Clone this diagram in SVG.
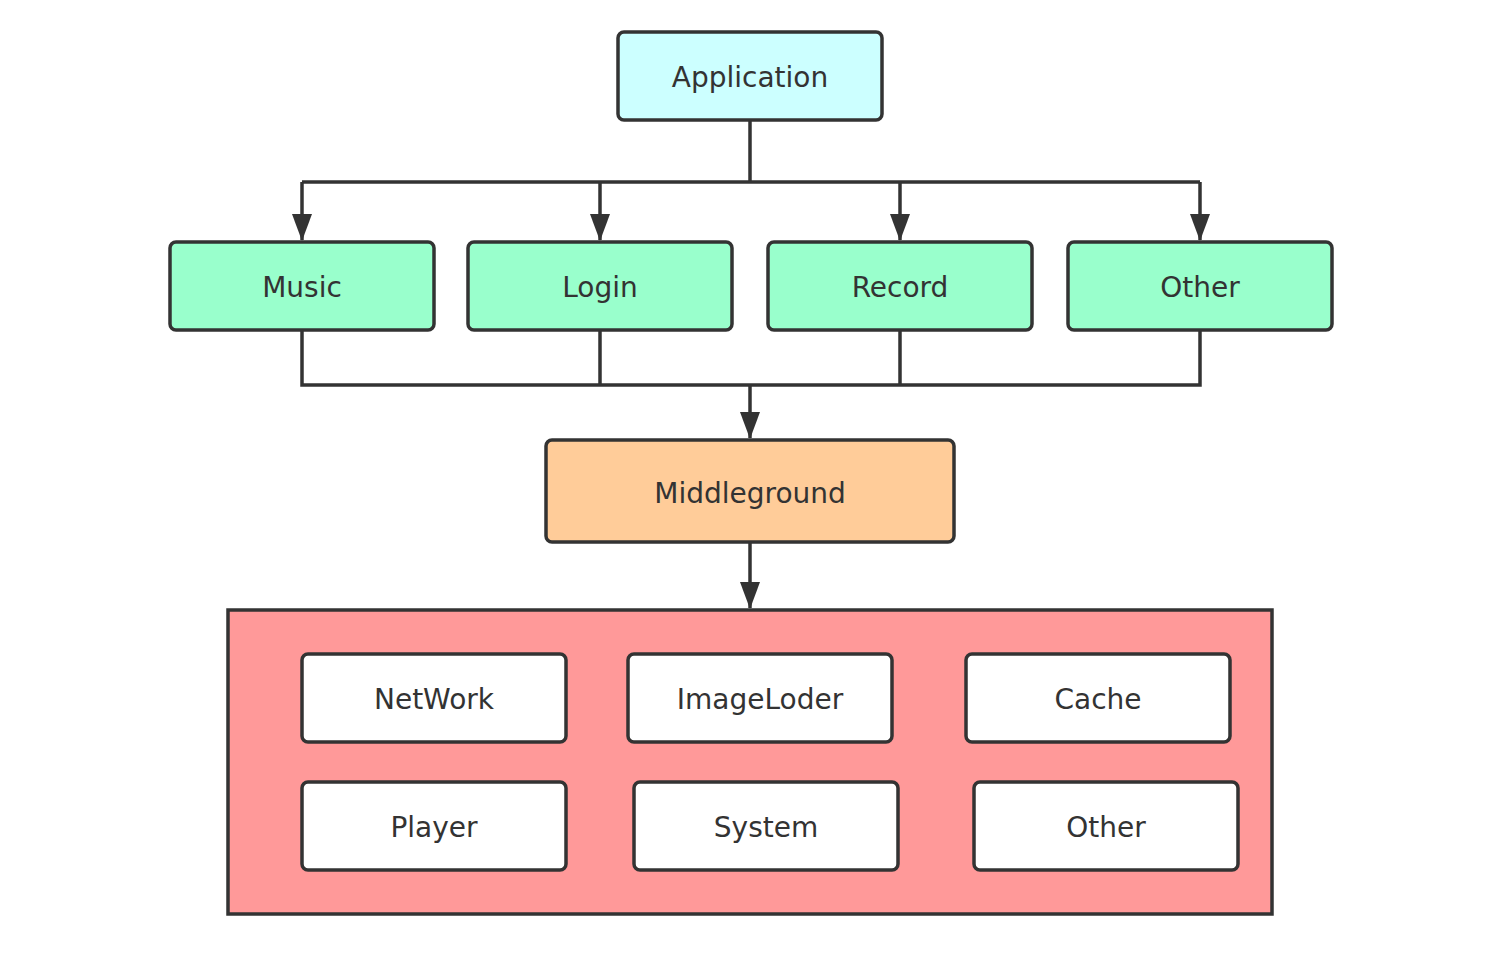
<svg xmlns="http://www.w3.org/2000/svg" width="1504" height="962" viewBox="0 0 1504 962">
<style>
.n{stroke:#333;stroke-width:3.5}
.t{font-family:"DejaVu Sans",Verdana,sans-serif;font-size:28px;fill:#333;text-anchor:middle}
.c{fill:none;stroke:#333;stroke-width:3.5}
.a{marker-end:url(#ah)}
</style>
<defs>
<marker id="ah" markerWidth="27" markerHeight="20" refX="26" refY="10" orient="auto" markerUnits="userSpaceOnUse" viewBox="0 0 27 20">
<path d="M0,0 L27,10 L0,20 Z" fill="#333"/>
</marker>
</defs>
<rect width="1504" height="962" fill="#fff"/>
<g id="connectors">
<path class="c" d="M750,120 V182 M302,182 H1200"/>
<path class="c a" d="M302,182 V240"/>
<path class="c a" d="M600,182 V240"/>
<path class="c a" d="M900,182 V240"/>
<path class="c a" d="M1200,182 V240"/>
<path class="c" d="M302,330 V385 H1200 V330 M600,330 V385 M900,330 V385"/>
<path class="c a" d="M750,385 V438"/>
<path class="c a" d="M750,542 V608"/>
</g>
<g id="application"><rect class="n" x="618" y="32" width="264" height="88" rx="6" fill="#ccffff"/><text class="t" x="750" y="87">Application</text></g>
<g id="music"><rect class="n" x="170" y="242" width="264" height="88" rx="6" fill="#99ffcc"/><text class="t" x="302" y="297">Music</text></g>
<g id="login"><rect class="n" x="468" y="242" width="264" height="88" rx="6" fill="#99ffcc"/><text class="t" x="600" y="297">Login</text></g>
<g id="record"><rect class="n" x="768" y="242" width="264" height="88" rx="6" fill="#99ffcc"/><text class="t" x="900" y="297">Record</text></g>
<g id="other1"><rect class="n" x="1068" y="242" width="264" height="88" rx="6" fill="#99ffcc"/><text class="t" x="1200" y="297">Other</text></g>
<g id="middleground"><rect class="n" x="546" y="440" width="408" height="102" rx="6" fill="#ffcc99"/><text class="t" x="750" y="503">Middleground</text></g>
<g id="base"><rect class="n" x="228" y="610" width="1044" height="304" fill="#ff9999"/></g>
<g id="network"><rect class="n" x="302" y="654" width="264" height="88" rx="6" fill="#fff"/><text class="t" x="434" y="709">NetWork</text></g>
<g id="imageloder"><rect class="n" x="628" y="654" width="264" height="88" rx="6" fill="#fff"/><text class="t" x="760" y="709">ImageLoder</text></g>
<g id="cache"><rect class="n" x="966" y="654" width="264" height="88" rx="6" fill="#fff"/><text class="t" x="1098" y="709">Cache</text></g>
<g id="player"><rect class="n" x="302" y="782" width="264" height="88" rx="6" fill="#fff"/><text class="t" x="434" y="837">Player</text></g>
<g id="system"><rect class="n" x="634" y="782" width="264" height="88" rx="6" fill="#fff"/><text class="t" x="766" y="837">System</text></g>
<g id="other2"><rect class="n" x="974" y="782" width="264" height="88" rx="6" fill="#fff"/><text class="t" x="1106" y="837">Other</text></g>
</svg>
